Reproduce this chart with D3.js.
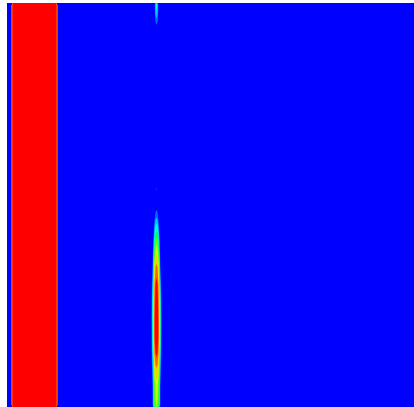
<!DOCTYPE html>
<html>
<head>
<meta charset="utf-8">
<script src="https://cdn.jsdelivr.net/npm/d3@7"></script>
<style>
  html, body { margin: 0; padding: 0; background: #fff; }
  svg { display: block; }
</style>
</head>
<body>
<svg id="chart" width="414" height="407"></svg>
<script>
// Field extent (data units)
const xDomain = [0, 100];
const yDomain = [0, 100];

// Saturated band on the left edge of the field
const bandRange = [1.25, 12.29];
const bandValue = 1.0;

// Narrow ridge: centre line, and its strength / half-width along y
const spikeX = 36.73;
const spikeY     = [0,    5.4,  9.2,  12.9, 16.6, 21.5, 26.5, 30.2, 33.9, 37.6, 41.3, 45.0, 47.5, 50.0, 52.5, 54.0, 55.4, 93.3, 95.3, 97.8, 100];
const spikeAmp   = [0.60, 0.66, 0.78, 0.92, 1.00, 1.00, 0.98, 0.94, 0.86, 0.72, 0.55, 0.32, 0.16, 0.04, 0.00, 0.12, 0.00, 0.00, 0.15, 0.30, 0.36];
const spikeWidth = [0.80, 0.80, 0.84, 0.88, 0.92, 0.94, 0.90, 0.84, 0.78, 0.70, 0.64, 0.53, 0.43, 0.33, 0.33, 0.37, 0.33, 0.33, 0.33, 0.38, 0.42];

// Cross-section of the ridge (offset in half-widths -> relative strength)
const shapeU = [0, 0.25, 0.5, 0.75, 1.0, 1.25, 1.5];
const shapeV = [1, 0.98, 0.90, 0.70, 0.40, 0.12, 0];

// Contour levels and fill colours (first colour = below the lowest level)
const levels = [0.1, 0.2, 0.3, 0.4, 0.5, 0.6, 0.7, 0.8, 0.9];
const levelColors = ["#0000ff", "#0066ff", "#00ccff", "#00ffcc", "#00ff66",
                     "#66ff00", "#ccff00", "#ffcc00", "#ff6600", "#ff0000"];

const svg = d3.select("#chart");
const plot = { left: 7, top: 3, right: 414, bottom: 407 };

const x = d3.scaleLinear().domain(xDomain).range([plot.left, plot.right]);
const y = d3.scaleLinear().domain(yDomain).range([plot.bottom, plot.top]);

// Sampling grid: one column per pixel, one row per 4 pixels
const nx = Math.round(plot.right - plot.left);
const ny = 101;
const gx = d3.scaleLinear().domain([0, nx]).range([plot.left, plot.right]);
const gy = d3.scaleLinear().domain([0, ny]).range([plot.top, plot.bottom]);

const ampAt = d3.scaleLinear().domain(spikeY).range(spikeAmp).clamp(true);
const widthAt = d3.scaleLinear().domain(spikeY).range(spikeWidth).clamp(true);
const shapeAt = d3.scaleLinear().domain(shapeU).range(shapeV).clamp(true);

const values = new Float64Array(nx * ny);
for (let j = 0; j < ny; j++) {
  const yv = y.invert(gy(j + 0.5));
  const a = ampAt(yv), w = widthAt(yv);
  for (let i = 0; i < nx; i++) {
    const xv = x.invert(gx(i + 0.5));
    let v = 0;
    if (xv >= bandRange[0] && xv <= bandRange[1]) v = bandValue;
    v = Math.max(v, a * shapeAt(Math.abs(xv - spikeX) / w));
    values[j * nx + i] = v;
  }
}

const contours = d3.contours().size([nx, ny]).thresholds(levels)(values);

const path = d3.geoPath(d3.geoTransform({
  point(px, py) { this.stream.point(gx(px), gy(py)); }
}));

// Background level
svg.append("rect")
  .attr("x", plot.left).attr("y", plot.top)
  .attr("width", plot.right - plot.left)
  .attr("height", plot.bottom - plot.top)
  .attr("fill", levelColors[0]);

svg.append("g")
  .selectAll("path")
  .data(contours)
  .join("path")
  .attr("d", path)
  .attr("fill", (d, i) => levelColors[i + 1]);
</script>
</body>
</html>
